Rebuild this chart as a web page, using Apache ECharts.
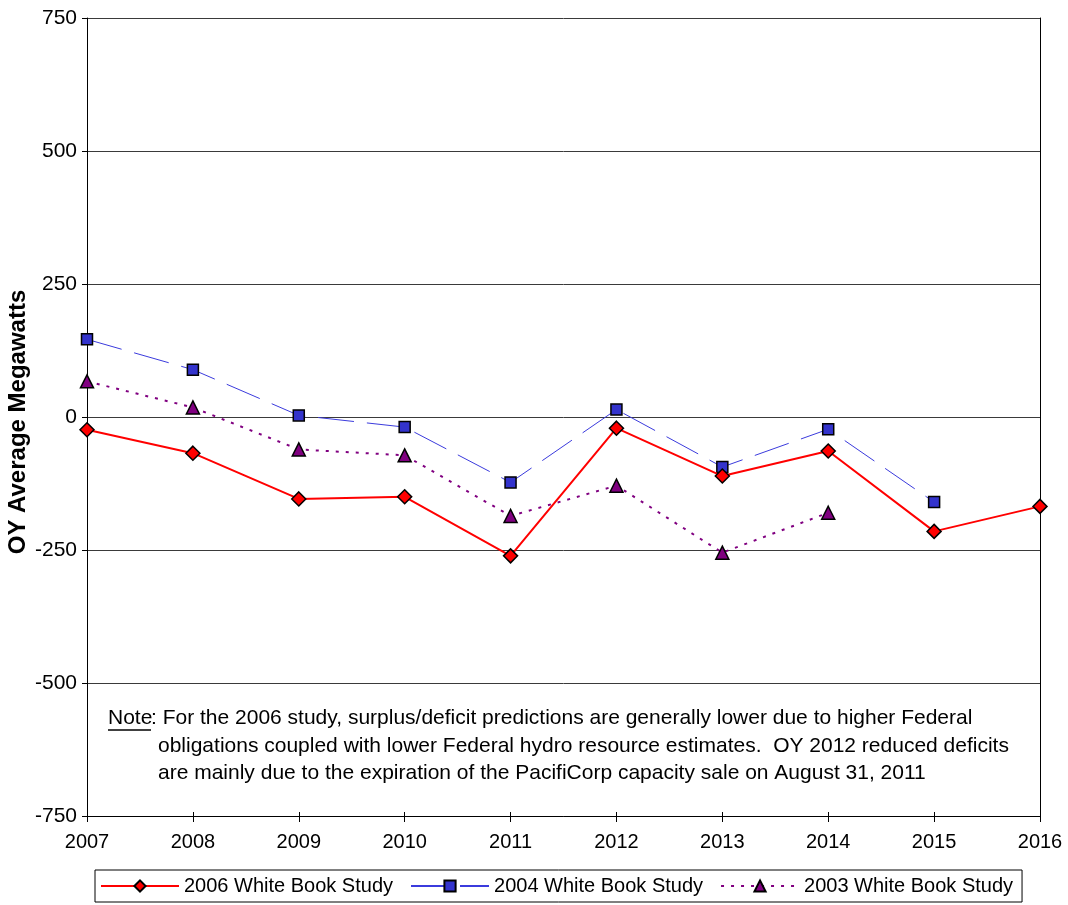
<!DOCTYPE html>
<html>
<head>
<meta charset="utf-8">
<script src="https://cdn.jsdelivr.net/npm/echarts@6/dist/echarts.min.js"></script>
<style>
  html, body { margin: 0; padding: 0; background: #fff; }
  #chart { width: 1068px; height: 905px; }
</style>
</head>
<body>
<div id="chart"></div>
<script>
// Operating-year surplus/deficit by study (average megawatts)
const years = ['2007', '2008', '2009', '2010', '2011', '2012', '2013', '2014', '2015', '2016'];
const study2006 = [-24, -68, -154, -150, -261, -21, -111, -64, -215, -168];
const study2004 = [146, 89, 3, -19, -123, 14, -94, -23, -160, null];
const study2003 = [67, 18, -61, -72, -186, -129, -255, -180, null, null];
const seriesNames = ['2006 White Book Study', '2004 White Book Study', '2003 White Book Study'];
const yTicks = { min: -750, max: 750, step: 250 };
const axisTitle = 'OY Average Megawatts';
const noteLines = [
  'For the 2006 study, surplus/deficit predictions are generally lower due to higher Federal',
  'obligations coupled with lower Federal hydro resource estimates.  OY 2012 reduced deficits',
  'are mainly due to the expiration of the PacifiCorp capacity sale on August 31, 2011'
];

const FONT = '"Liberation Sans", Arial, sans-serif';
const chart = echarts.init(document.getElementById('chart'), null, { renderer: 'canvas' });

chart.setOption({
  animation: false,
  backgroundColor: '#fff',
  textStyle: { fontFamily: FONT, color: '#000' },
  grid: { left: 87, right: 28, top: 18, bottom: 89, containLabel: false, outerBoundsMode: 'none' },
  xAxis: [
    {
      type: 'category',
      data: years,
      boundaryGap: false,
      axisLine: { onZero: false, lineStyle: { color: '#000', width: 1 } },
      axisTick: { show: true, alignWithLabel: true, length: 6, lineStyle: { color: '#000' } },
      axisLabel: { color: '#000', fontSize: 20, fontFamily: FONT, margin: 16 },
      splitLine: { show: false }
    },
    {
      // inner half of the cross ticks on the category axis
      type: 'category',
      data: years,
      boundaryGap: false,
      position: 'bottom',
      axisLine: { show: false, onZero: false },
      axisTick: { show: true, inside: true, length: 4, lineStyle: { color: '#000' } },
      axisLabel: { show: false },
      splitLine: { show: false }
    }
  ],
  yAxis: [
    {
      type: 'value',
      min: yTicks.min,
      max: yTicks.max,
      interval: yTicks.step,
      axisLine: { show: true, onZero: false, lineStyle: { color: '#000', width: 1 } },
      axisTick: { show: true, length: 5, lineStyle: { color: '#000' } },
      axisLabel: { color: '#000', fontSize: 21, fontFamily: FONT, margin: 10 },
      splitLine: { show: true, lineStyle: { color: '#3a3a3a', width: 1 } }
    },
    {
      // right-hand frame of the plot area
      type: 'value',
      position: 'right',
      min: yTicks.min,
      max: yTicks.max,
      interval: yTicks.step,
      axisLine: { show: true, onZero: false, lineStyle: { color: '#000', width: 1 } },
      axisTick: { show: false },
      axisLabel: { show: false },
      splitLine: { show: false }
    }
  ],
  legend: {
    left: 95,
    top: 870,
    orient: 'horizontal',
    data: seriesNames,
    itemWidth: 78,
    itemHeight: 14,
    itemGap: 17,
    padding: [6, 9, 6, 5],
    borderColor: '#000',
    borderWidth: 1,
    textStyle: { fontSize: 20, fontFamily: FONT, color: '#000' }
  },
  series: [
    {
      name: seriesNames[0],
      type: 'line',
      data: study2006,
      symbol: 'diamond',
      symbolSize: 14,
      lineStyle: { color: '#ff0000', width: 2 },
      itemStyle: { color: '#ff0000', borderColor: '#000', borderWidth: 1.5 },
      z: 4
    },
    {
      name: seriesNames[1],
      type: 'line',
      data: study2004,
      symbol: 'rect',
      symbolSize: 11,
      lineStyle: { color: '#3b3bdd', width: 1, type: [36, 13] },
      itemStyle: { color: '#3333cc', borderColor: '#000', borderWidth: 1.5 },
      z: 3
    },
    {
      name: seriesNames[2],
      type: 'line',
      data: study2003,
      symbol: 'triangle',
      symbolSize: 13,
      lineStyle: { color: '#800080', width: 2, type: [3, 7] },
      itemStyle: { color: '#800080', borderColor: '#000', borderWidth: 1.5 },
      z: 2
    }
  ],
  graphic: [
    {
      // vertical axis title
      type: 'text', x: 18, y: 422, rotation: Math.PI / 2,
      style: {
        text: axisTitle, fontSize: 24, fontWeight: 'bold', fontFamily: FONT,
        fill: '#000', align: 'center', verticalAlign: 'middle'
      }
    },
    {
      type: 'text', x: 108, y: 718,
      style: { text: 'Note', fontSize: 21, fontFamily: FONT, fill: '#000', verticalAlign: 'middle' }
    },
    {
      type: 'text', x: 151, y: 718,
      style: { text: ': ' + noteLines[0], fontSize: 21, fontFamily: FONT, fill: '#000', verticalAlign: 'middle' }
    },
    {
      type: 'line',
      shape: { x1: 108, y1: 730, x2: 151, y2: 730 },
      style: { stroke: '#000', lineWidth: 1.5 }
    },
    {
      type: 'text', x: 158, y: 746,
      style: { text: noteLines[1], fontSize: 21, fontFamily: FONT, fill: '#000', verticalAlign: 'middle' }
    },
    {
      type: 'text', x: 158, y: 773,
      style: { text: noteLines[2], fontSize: 21, fontFamily: FONT, fill: '#000', verticalAlign: 'middle' }
    }
  ]
});
</script>
</body>
</html>
